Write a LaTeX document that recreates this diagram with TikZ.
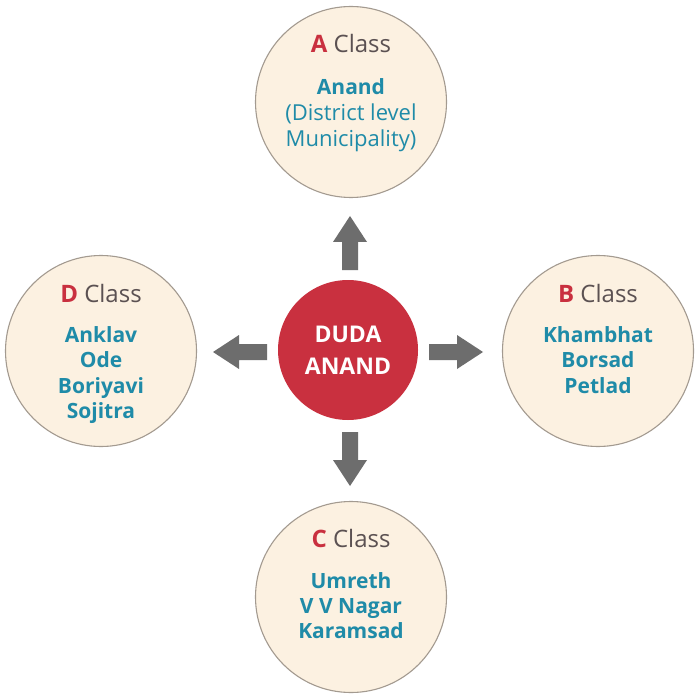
\documentclass[tikz,border=0pt]{standalone}
\usepackage{fontspec}
\setmainfont{Open Sans}
\definecolor{cream}{HTML}{FCF1E1}
\definecolor{ringgray}{HTML}{A39A90}
\definecolor{dudared}{HTML}{C9303F}
\definecolor{teal}{HTML}{1F8BA8}
\definecolor{classgray}{HTML}{5B5152}
\definecolor{arrowgray}{HTML}{6D6D6D}
\begin{document}
\begin{tikzpicture}[x=1pt,y=-1pt,
  classcircle/.style={circle,draw=ringgray,fill=cream,line width=1.1pt,minimum size=191pt,inner sep=0pt},
  hub/.style={circle,fill=dudared,minimum size=140pt,inner sep=0pt},
  classlabel/.style={anchor=base,inner sep=0pt,text=classgray,font=\fontsize{24}{24}\selectfont},
  town/.style={anchor=base,inner sep=0pt,text=teal,font=\fontsize{21}{21}\selectfont\bfseries},
  townreg/.style={anchor=base,inner sep=0pt,text=teal,font=\fontsize{22}{22}\selectfont},
  hubtext/.style={anchor=base,inner sep=0pt,text=white,font=\fontsize{23}{23}\selectfont\bfseries},
  blockarr/.pic={\fill[arrowgray] (0,-8) -- (28,-8) -- (28,-17) -- (54,0) -- (28,17) -- (28,8) -- (0,8) -- cycle;}
]
\useasboundingbox[fill=white] (0,0) rectangle (700,700);
\newcommand{\cls}[1]{\textcolor{dudared}{\bfseries #1} Class}

% circles
\node[classcircle] (A) at (351,102) {};
\node[classcircle] (B) at (598,351) {};
\node[classcircle] (C) at (351,597) {};
\node[classcircle] (D) at (101,351) {};
\node[hub] (hub) at (348,350) {};

% hub text
\node[hubtext] (hub1) at (348,342) {DUDA};
\node[hubtext] (hub2) at (348,374) {ANAND};

% A
\node[classlabel] (Al) at (351,53) {\cls{A}};
\node[town] (A1) at (351,95) {Anand};
\node[townreg] (A2) at (351,121) {(District level};
\node[townreg] (A3) at (351,147) {Municipality)};

% B
\node[classlabel] (Bl) at (598,302) {\cls{B}};
\node[town] (B1) at (598,342) {Khambhat};
\node[town] (B2) at (598,367) {Borsad};
\node[town] (B3) at (598,393) {Petlad};

% C
\node[classlabel] (Cl) at (351,547) {\cls{C}};
\node[town] (C1) at (351,588) {Umreth};
\node[town] (C2) at (351,613) {V V Nagar};
\node[town] (C3) at (351,638) {Karamsad};

% D
\node[classlabel] (Dl) at (101,302) {\cls{D}};
\node[town] (D1) at (101,342) {Anklav};
\node[town] (D2) at (101,367) {Ode};
\node[town] (D3) at (101,393) {Boriyavi};
\node[town] (D4) at (101,418) {Sojitra};

% arrows
\pic[rotate=90] at (350,270) {blockarr};
\pic[rotate=-90] at (350,432) {blockarr};
\pic at (429,352) {blockarr};
\pic[rotate=180] at (267,352) {blockarr};
\end{tikzpicture}
\end{document}
